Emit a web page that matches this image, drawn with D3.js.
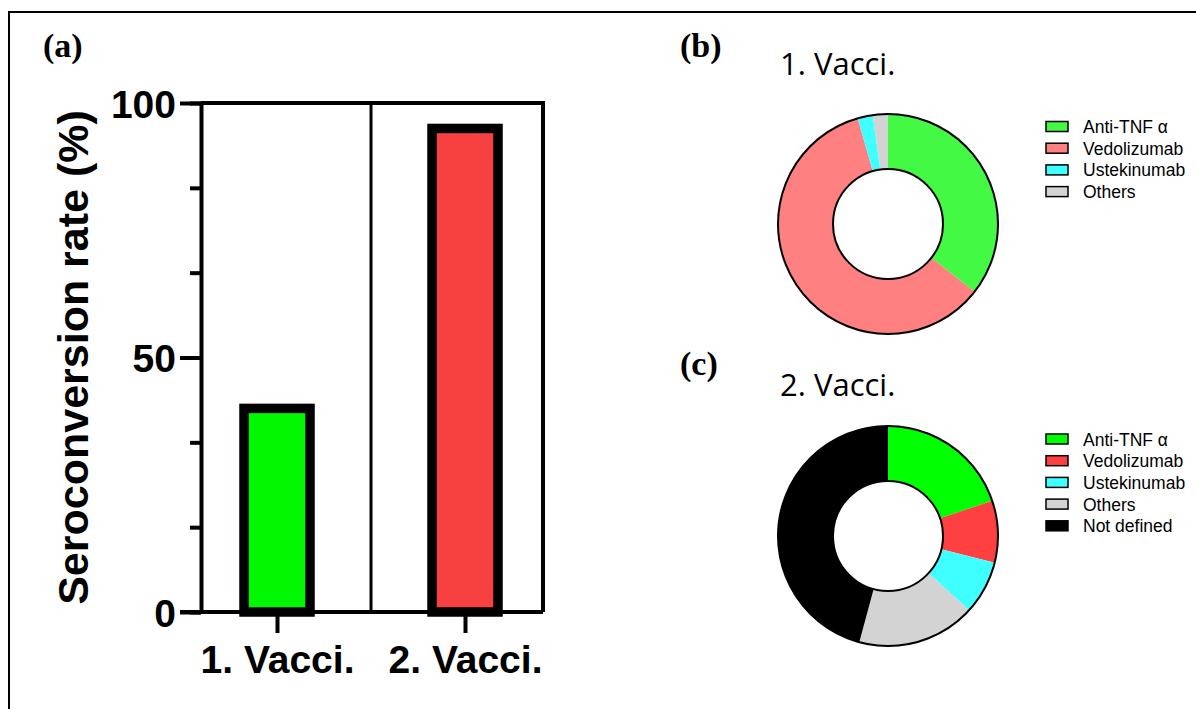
<!DOCTYPE html>
<html>
  <head>
    <meta charset="UTF-8">
    <style>
      body { margin: 0; background: #fff; }
      .panel-label { font: bold 34px "Liberation Serif", serif; }
      .axis text { font: bold 39px "Liberation Sans", Arial, sans-serif; fill: #000; }
      .axis path, .axis line { stroke: #000; stroke-width: 4; }
      .donut-title { font: 31px "Open Sans", sans-serif; }
      .legend text { font: 17.5px "Liberation Sans", Arial, sans-serif; }
    </style>
    <script src="https://cdn.jsdelivr.net/npm/d3@7/dist/d3.min.js"></script>
  </head>
  <body>
    <script>
      // bar chart (a)
      var vaccinations = ["1. Vacci.", "2. Vacci."];
      var seroconversion = [40, 95];
      var barColors = ["#00f800", "#f74141"];
      var yTicks = [0, 50, 100];

      // donut (b): patient counts after 1st vaccination
      var drugs1 = ["Anti-TNF \u03b1", "Vedolizumab", "Ustekinumab", "Others"];
      var counts1 = [16, 27, 1, 1];
      var colors1 = ["#44f944", "#ff8080", "#40ffff", "#d3d3d3"];

      // donut (c): share (%) after 2nd vaccination
      var drugs2 = ["Anti-TNF \u03b1", "Vedolizumab", "Ustekinumab", "Others", "Not defined"];
      var share2 = [19.8, 9.1, 7.9, 17.4, 45.8];
      var colors2 = ["#00ff00", "#ff4040", "#40ffff", "#d3d3d3", "#000000"];

      var width = 1196, height = 709;

      var svg = d3.select("body").append("svg")
        .attr("width", width)
        .attr("height", height);

      // outer frame
      svg.append("rect")
        .attr("x", 9).attr("y", 12)
        .attr("width", 1200).attr("height", 720)
        .attr("fill", "none")
        .attr("stroke", "#000")
        .attr("stroke-width", 2);

      // ---- (a) ----
      svg.append("text").attr("class", "panel-label")
        .attr("x", 43).attr("y", 57).text("(a)");

      var y = d3.scaleLinear().domain([0, 100]).range([612, 103]);
      var x = d3.scalePoint().domain(vaccinations).range([277, 465]);
      var left = 201, right = 543, mid = 371;

      var gA = svg.append("g");

      // plot box
      gA.append("path")
        .attr("d", "M" + left + "," + y(100) + "H" + right + "V" + y(0))
        .attr("fill", "none").attr("stroke", "#000").attr("stroke-width", 4);
      gA.append("line")
        .attr("x1", mid).attr("x2", mid)
        .attr("y1", y(100)).attr("y2", y(0))
        .attr("stroke", "#000").attr("stroke-width", 3);

      // bars
      var barW = 66;
      gA.selectAll(".bar")
        .data(seroconversion)
        .enter().append("rect")
        .attr("class", "bar")
        .attr("x", function(d, i) { return x(vaccinations[i]) - barW / 2; })
        .attr("y", function(d) { return y(d); })
        .attr("width", barW)
        .attr("height", function(d) { return y(0) - y(d); })
        .attr("fill", function(d, i) { return barColors[i]; })
        .attr("stroke", "#000")
        .attr("stroke-width", 9.5);

      // minor y ticks
      gA.append("g")
        .attr("class", "axis")
        .attr("transform", "translate(" + left + ",0)")
        .call(d3.axisLeft(y).tickValues(d3.range(0, 101, 50 / 3)).tickSize(11).tickFormat(""))
        .call(function(g) { g.select(".domain").remove(); });

      // major y axis
      gA.append("g")
        .attr("class", "axis")
        .attr("transform", "translate(" + left + ",0)")
        .call(d3.axisLeft(y).tickValues(yTicks).tickSize(21).tickSizeOuter(0).tickPadding(4))
        .call(function(g) { g.selectAll("text").attr("dy", "0.36em"); });

      // x axis
      gA.append("g")
        .attr("class", "axis")
        .attr("transform", "translate(0," + y(0) + ")")
        .call(d3.axisBottom(x).tickSize(21).tickSizeOuter(0).tickPadding(12))
        .call(function(g) {
          g.select(".domain").attr("d", "M" + (left - 21) + ",0H" + right);
          g.selectAll("text").attr("font-size", "38px");
        });

      gA.append("text")
        .attr("transform", "translate(88," + (y(0) + y(100)) / 2 + ") rotate(-90)")
        .attr("text-anchor", "middle")
        .style("font", "bold 43px 'Liberation Sans', Arial, sans-serif")
        .text("Seroconversion rate (%)");

      // ---- donuts ----
      var pie = d3.pie().sort(null).value(function(d) { return d; });
      var arc = d3.arc().innerRadius(55).outerRadius(110);

      function donut(cx, cy, values, colors, labels, label, labelY, title, titleY, legendY) {
        svg.append("text").attr("class", "panel-label")
          .attr("x", 680).attr("y", labelY).text(label);
        svg.append("text").attr("class", "donut-title")
          .attr("x", 780).attr("y", titleY).text(title);

        var g = svg.append("g").attr("transform", "translate(" + cx + "," + cy + ")");
        g.selectAll(".slice")
          .data(pie(values))
          .enter().append("path")
          .attr("class", "slice")
          .attr("d", arc)
          .attr("fill", function(d, i) { return colors[i]; });
        [55, 110].forEach(function(r) {
          g.append("circle").attr("r", r)
            .attr("fill", "none").attr("stroke", "#000").attr("stroke-width", 2);
        });

        var lg = svg.append("g").attr("class", "legend")
          .attr("transform", "translate(1046," + legendY + ")");
        var item = lg.selectAll(".item")
          .data(labels)
          .enter().append("g")
          .attr("class", "item")
          .attr("transform", function(d, i) { return "translate(0," + i * 21.7 + ")"; });
        item.append("rect")
          .attr("x", 0).attr("y", -5)
          .attr("width", 22).attr("height", 10)
          .attr("fill", function(d, i) { return colors[i]; })
          .attr("stroke", "#000").attr("stroke-width", 1.5);
        item.append("text")
          .attr("x", 37).attr("y", 6.5)
          .text(function(d) { return d; });
      }

      donut(888, 224, counts1, colors1, drugs1, "(b)", 57, "1. Vacci.", 75, 126.5);
      donut(888, 536, share2, colors2, drugs2, "(c)", 375, "2. Vacci.", 396, 439);
    </script>
  </body>
</html>
